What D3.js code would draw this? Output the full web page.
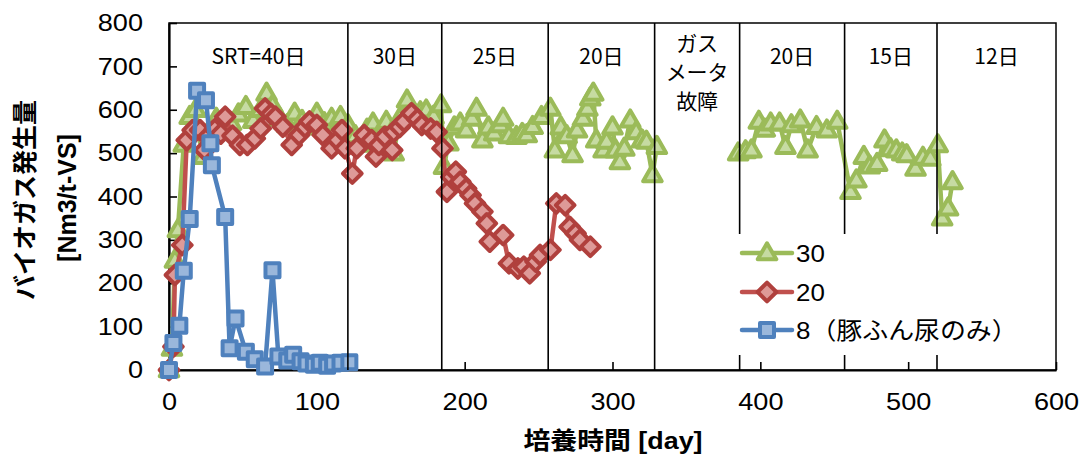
<!DOCTYPE html>
<html lang="ja">
<head>
<meta charset="utf-8">
<script src="https://cdn.jsdelivr.net/npm/d3@7"></script>
<style>
  html, body { margin: 0; padding: 0; background: #fff; }
  svg { display: block; }
</style>
</head>
<body>
<svg id="chart" width="1082" height="454"></svg>
<script>
// 培養日数 (day) と バイオガス発生量 (Nm3/t-VS)
const days30 = [0,2,4,6,10,14,18,23,27,32,37,42,47,52,57,62,66,70,75,80,85,90,95,100,105,110,116,121,126,130,134,138,142,147,152,156,161,166,170,174,179,184,186,189,193,197,201,205,208,212,216,220,224,226,230,235,239,242,246,252,258,261,265,269,273,276,280,283,285,287,289,294,296,300,302,305,308,312,316,320,323,327,330,358,385,390,394,399,403,407,413,417,421,427,432,438,445,452,461,465,470,474,479,484,488,492,496,499,505,510,515,520,523,527,530];
const vals30 = [0,50,253,323,520,584,600,492,540,580,555,570,590,607,575,600,638,610,580,565,592,575,560,592,570,580,584,565,540,520,555,569,540,573,500,580,622,590,595,599,585,611,469,523,560,569,553,580,603,530,560,546,565,580,540,538,545,542,561,584,603,507,560,540,496,553,580,603,627,638,530,507,527,560,507,480,511,576,549,530,527,450,515,null,500,505,507,573,555,569,569,515,565,576,507,561,553,573,411,438,492,470,476,530,510,507,500,496,465,490,488,519,350,373,434];

const days20 = [0,3,4,9,12,16,21,24,27,31,35,38,43,48,53,58,62,65,69,72,77,83,88,92,95,100,104,110,114,117,119,124,127,132,137,140,142,146,151,152,156,159,164,168,171,177,181,185,188,191,194,197,201,204,207,212,215,217,226,230,236,240,244,248,251,258,262,268,271,275,278,285];
const vals20 = [0,54,219,288,530,553,553,507,540,555,545,584,540,519,519,534,557,603,590,584,561,519,542,560,573,565,542,511,530,553,511,453,511,542,530,492,519,538,507,549,560,573,592,578,565,557,549,511,411,445,457,434,418,403,384,365,338,296,311,246,234,238,223,250,265,277,384,380,330,315,300,284];

const days8 = [0,3,7,10,14,19,25,28,29,38,41,45,52,58,65,70,74,80,84,89,93,98,102,107,111,116,122];
const vals8 = [0,62,102,229,348,644,622,523,472,353,50,119,42,25,8,230,31,22,35,20,15,12,17,10,15,17,18];

// 運転条件の区切り (day) とその表示
const phaseBounds = [0,121,184.5,256.5,328.5,386,457,519.5,600];
const phaseLabels = [["SRT=40日"],["30日"],["25日"],["20日"],["ガス","メータ","故障"],["20日"],["15日"],["12日"]];

const xTicks = [0,100,200,300,400,500,600];
const yTicks = [0,100,200,300,400,500,600,700,800];

const seriesNames = ["30","20","8（豚ふん尿のみ）"];

const svg = d3.select("#chart");
const plotL = 169, plotR = 1056, plotT = 23, plotB = 370;
const x = d3.scaleLinear().domain([0,600]).range([plotL,plotR]);
const y = d3.scaleLinear().domain([0,800]).range([plotB,plotT]);

const numFont = "'Liberation Sans', Arial, sans-serif";
const jpFont = "'Noto Sans CJK JP', 'Noto Sans', sans-serif";

// plot frame
svg.append("rect")
  .attr("x", plotL).attr("y", plotT)
  .attr("width", plotR-plotL).attr("height", plotB-plotT)
  .attr("fill", "none").attr("stroke", "#000").attr("stroke-width", 1.5);

// axes (ticks point inward)
const xAxis = svg.append("g")
  .attr("transform", `translate(0,${plotB})`)
  .call(d3.axisBottom(x).tickValues(xTicks).tickSizeInner(-8).tickSizeOuter(0).tickPadding(23));
const yAxis = svg.append("g")
  .attr("transform", `translate(${plotL},0)`)
  .call(d3.axisLeft(y).tickValues(yTicks).tickSizeInner(-8).tickSizeOuter(0).tickPadding(23));
[xAxis, yAxis].forEach(g => {
  g.select(".domain").attr("stroke", "#000").attr("stroke-width", 2.2);
  g.selectAll(".tick line").attr("stroke", "#000").attr("stroke-width", 1.6);
  g.selectAll(".tick text")
    .attr("fill", "#000")
    .style("font-family", numFont)
    .style("font-size", "24px")
    .attr("transform", "scale(1.13,1)");
});

// axis titles
svg.append("text")
  .attr("transform", `translate(613,449) scale(1.12,1)`)
  .attr("text-anchor", "middle")
  .style("font-family", `'Liberation Sans', ${jpFont}`)
  .style("font-weight", "bold").style("font-size", "24px")
  .text("培養時間 [day]");

svg.append("text")
  .attr("transform", "translate(34,200) rotate(-90)")
  .attr("text-anchor", "middle")
  .style("font-family", jpFont)
  .style("font-weight", "bold").style("font-size", "25px")
  .text("バイオガス発生量");
svg.append("text")
  .attr("transform", "translate(76,198) rotate(-90)")
  .attr("text-anchor", "middle")
  .style("font-family", numFont)
  .style("font-weight", "bold").style("font-size", "25px")
  .text("[Nm3/t-VS]");

// series styles
const styles = [
  { days: days30, vals: vals30, line: "#9BBB59", mstroke: "#9BBB59", mfill: "#C6DBA2", shape: "triangle" },
  { days: days20, vals: vals20, line: "#C0504D", mstroke: "#B0403D", mfill: "#DE9A98", shape: "diamond" },
  { days: days8,  vals: vals8,  line: "#4F81BD", mstroke: "#4F81BD", mfill: "#9AB7DB", shape: "square" }
];

const triPath = d3.symbol().type(d3.symbolTriangle).size(150)();
const sqPath = d3.symbol().type(d3.symbolSquare).size(196)();
const dmPath = d3.symbol().type(d3.symbolSquare).size(175)();

function marker(sel, s) {
  if (s.shape === "triangle") {
    sel.append("path").attr("d", triPath).attr("transform", "translate(0,1)");
  } else if (s.shape === "diamond") {
    sel.append("path").attr("d", dmPath).attr("transform", "rotate(45)");
  } else {
    sel.append("path").attr("d", sqPath);
  }
  sel.selectAll("path")
    .attr("fill", s.mfill).attr("stroke", s.mstroke)
    .attr("stroke-width", 4).attr("stroke-linejoin", "round");
}

const lineGen = d3.line()
  .defined(d => d.v != null)
  .x(d => x(d.d)).y(d => y(d.v));

styles.forEach(s => {
  const pts = s.days.map((d,i) => ({ d, v: s.vals[i] }));
  const g = svg.append("g");
  g.append("path").datum(pts)
    .attr("d", lineGen)
    .attr("fill", "none").attr("stroke", s.line)
    .attr("stroke-width", 4.5).attr("stroke-linejoin", "round");
  g.selectAll("g.m").data(pts.filter(p => p.v != null)).join("g")
    .attr("class", "m")
    .attr("transform", p => `translate(${x(p.d)},${y(p.v)})`)
    .each(function() { marker(d3.select(this), s); });
});

// phase separators and labels
svg.append("g").selectAll("line")
  .data(phaseBounds.slice(1, -1)).join("line")
  .attr("x1", d => x(d)).attr("x2", d => x(d))
  .attr("y1", y(800)).attr("y2", y(0))
  .attr("stroke", "#000").attr("stroke-width", 1.6);

const lab = svg.append("g");
phaseLabels.forEach((lines, i) => {
  const cx = (x(phaseBounds[i]) + x(phaseBounds[i+1])) / 2;
  const single = lines.length === 1;
  lines.forEach((t, j) => {
    lab.append("text")
      .attr("x", cx)
      .attr("y", single ? 64 : 51 + j * 29)
      .attr("text-anchor", "middle")
      .style("font-family", jpFont)
      .style("font-size", "21px")
      .text(t);
  });
});

// legend
const lg = svg.append("g");
lg.append("rect")
  .attr("x", 735).attr("y", 234).attr("width", 290).attr("height", 121)
  .attr("fill", "#fff");
const rows = [253, 292, 330];
styles.forEach((s, i) => {
  const row = lg.append("g").attr("transform", `translate(767,${rows[i]})`);
  row.append("line")
    .attr("x1", -25).attr("x2", 25)
    .attr("stroke", s.line).attr("stroke-width", 4.5).attr("stroke-linecap", "round");
  marker(row.append("g"), s);
  lg.append("text")
    .attr("transform", `translate(796,${rows[i] + 9}) scale(1.08,1)`)
    .style("font-family", `'Liberation Sans', ${jpFont}`)
    .style("font-size", "24px")
    .text(seriesNames[i]);
});
</script>
</body>
</html>
